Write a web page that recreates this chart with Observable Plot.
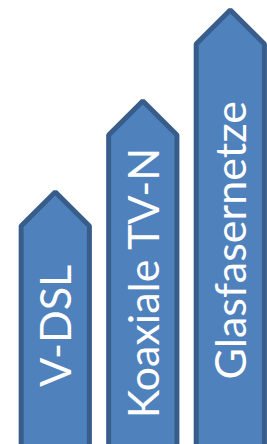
<!DOCTYPE html>
<html>
<head>
<meta charset="utf-8">
<script src="https://cdn.jsdelivr.net/npm/d3@7"></script>
<script src="https://cdn.jsdelivr.net/npm/@observablehq/plot@0.6"></script>
<style>
  html, body { margin: 0; padding: 0; background: #fff; overflow: hidden; }
  #chart svg { display: block; }
</style>
</head>
<body>
<div id="chart"></div>
<script>
// Data
const categories = ["V-DSL", "Koaxiale TV-N", "Glasfasernetze"];
const values = [252.5, 343.5, 434.5];   // arrow tip height (arbitrary units)

const halfWidth = 0.39;   // half bar width in category units
const tipHeight = 34;     // arrow head height in value units

const bars = categories.map((name, i) => ({ name, i, value: values[i] }));

// arrow outline vertices
const outline = bars.flatMap(d => [
  { name: d.name, x: d.i - halfWidth, y: -20 },
  { name: d.name, x: d.i - halfWidth, y: d.value - tipHeight },
  { name: d.name, x: d.i,             y: d.value },
  { name: d.name, x: d.i + halfWidth, y: d.value - tipHeight },
  { name: d.name, x: d.i + halfWidth, y: -20 },
  { name: d.name, x: d.i - halfWidth, y: -20 }
]);

const chart = Plot.plot({
  width: 267,
  height: 444,
  margin: 0,
  x: { domain: [-0.626, 2.425], axis: null },
  y: { domain: [0, 444], axis: null },
  marks: [
    Plot.line(outline, {
      x: "x", y: "y", z: "name",
      fill: "#4f81bd",
      stroke: "#385d8a",
      strokeWidth: 5,
      strokeLinejoin: "miter",
      curve: "linear",
      clip: true
    }),
    Plot.text(bars, {
      x: "i",
      y: d => d.value * 0.47,
      text: "name",
      rotate: -90,
      textAnchor: "middle",
      fill: "white",
      fontSize: 43,
      fontFamily: "Lato",
      dx: 2
    })
  ]
});
document.getElementById("chart").appendChild(chart);
</script>
</body>
</html>
